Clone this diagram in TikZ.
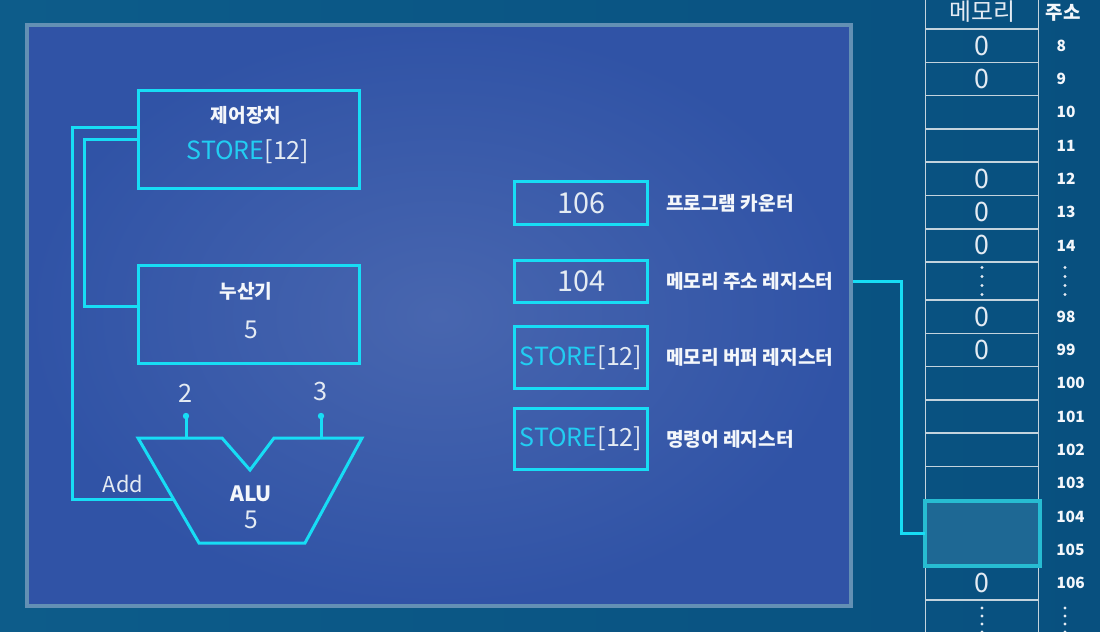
\documentclass[tikz,border=0pt]{standalone}
\usepackage{fontspec}
\setmainfont{Noto Sans CJK KR}
\usepackage{tikz}
\usetikzlibrary{positioning,calc}
\definecolor{bgteal}{HTML}{0D5C8A}
\definecolor{bgdeep}{HTML}{08507F}
\definecolor{panelin}{HTML}{4866AF}
\definecolor{panelout}{HTML}{3053A6}
\definecolor{panelrim}{HTML}{6390B4}
\definecolor{wirecyan}{HTML}{17DDF5}
\definecolor{opcyan}{HTML}{22CDF2}
\definecolor{txtwhite}{HTML}{F4F7FB}
\definecolor{numwhite}{HTML}{E4EBF3}
\definecolor{gridgray}{HTML}{C3D3DD}
\definecolor{hiline}{HTML}{27BCD2}
\definecolor{hifill}{HTML}{1E6894}
\newcommand{\storeop}[1]{{\fontsize{17.8}{21}\selectfont\textcolor{opcyan}{STORE}[#1]}}
\tikzset{
  cpubox/.style={draw=wirecyan, line width=0.75mm, minimum width=55.25mm, minimum height=24.5mm, inner sep=0pt, outer sep=0pt},
  regbox/.style={draw=wirecyan, line width=0.75mm, minimum width=33.25mm, inner sep=0pt, outer sep=0pt, text=numwhite, font=\fontsize{20.5}{24}\selectfont},
  cpuwire/.style={draw=wirecyan, line width=0.75mm},
  pindot/.style={circle, fill=wirecyan, minimum size=1.6mm, inner sep=0pt},
  titletxt/.style={text=txtwhite, font=\fontsize{13.6}{16}\selectfont\bfseries, inner sep=0pt},
  optxt/.style={text=numwhite, inner sep=0pt},
  valtxt/.style={text=numwhite, font=\fontsize{17.5}{21}\selectfont, inner sep=0pt},
  reglabel/.style={text=txtwhite, font=\fontsize{13.6}{16}\selectfont\bfseries, inner sep=0pt, anchor=west},
  memcell/.style={draw=gridgray, line width=0.375mm, minimum width=28.15mm, minimum height=8.33mm, inner sep=0pt, outer sep=0pt, text=numwhite, font=\fontsize{19}{22}\selectfont},
  addrtxt/.style={text=txtwhite, font=\fontsize{11}{13}\selectfont\bfseries, inner sep=0pt, anchor=west},
  memdot/.style={fill=numwhite}
}

\begin{document}
\begin{tikzpicture}[x=0.25mm, y=-0.25mm]
  \useasboundingbox (0,0) rectangle (1100,632);
  \clip (0,0) rectangle (1100,632);
  \shade[left color=bgteal, right color=bgdeep] (0,0) rectangle (1100,632);

  % CPU panel
  \shade[inner color=panelin, outer color=panelout] (26.5,24.7) rectangle (851,606);
  \draw[panelrim, line width=1mm] (26.5,24.7) rectangle (851,606);

  \node[cpubox] (ctrl) at (249,139.5) {};
  \node[titletxt] (ctrltitle) at ($(ctrl.center)+(-3,-24.5)$) {제어장치};
  \node[optxt] (ctrlop) at ($(ctrl.center)+(-1,12.5)$) {\storeop{12}};
  \node[cpubox] (acc) at (249,314.5) {};
  \node[titletxt] (acctitle) at ($(acc.center)+(-3,-23.5)$) {누산기};
  \node[valtxt] (accval) at ($(acc.center)+(2,15.5)$) {5};

  \draw[cpuwire] (138,438) -- (222,438) -- (250,470) -- (274,438) -- (362,438) -- (305,543) -- (199,543) -- cycle;
  \node[titletxt, font=\fontsize{15}{18}\selectfont\bfseries] (alu) at (251,494) {ALU};
  \node[valtxt] (aluval) at (251,520) {5};
  \coordinate (aluin) at (173.5,499);
  \coordinate (alutopa) at (186,438);
  \coordinate (alutopb) at (321,438);

  \node[pindot] (pina) at (186,416) {};
  \node[pindot] (pinb) at (321,416) {};
  \node[valtxt, font=\fontsize{18}{21}\selectfont] (numa) at (186,393) {2};
  \node[valtxt, font=\fontsize{18}{21}\selectfont] (numb) at (321,391) {3};
  \draw[cpuwire] (pina.center) -- (alutopa);
  \draw[cpuwire] (pinb.center) -- (alutopb);

  \draw[cpuwire] ($(ctrl.west)+(0,-11.5)$) -| (72,499) -- (aluin);
  \draw[cpuwire] ($(ctrl.west)+(0,0.5)$) -| ($(acc.west)+(-54,-8)$) -- ($(acc.west)+(0,-8)$);
  \node[valtxt, font=\fontsize{15.5}{18}\selectfont] (addlbl) at (123,484) {Add};

  % registers
  \node[regbox, minimum height=10.75mm] (pc) at (581,203) {106};
  \node[regbox, minimum height=10.5mm] (mar) at (581,281.5) {104};
  \node[regbox, minimum height=15.5mm] (mbr) at (581,357.5) {\storeop{12}};
  \node[regbox, minimum height=15.25mm] (ir) at (581,439) {\storeop{12}};
  \node[reglabel, right=4.6mm of pc] (pclbl) {프로그램 카운터};
  \node[reglabel, right=4.6mm of mar] (marlbl) {메모리 주소 레지스터};
  \node[reglabel, right=4.6mm of mbr] (mbrlbl) {메모리 버퍼 레지스터};
  \node[reglabel, right=4.6mm of ir] (irlbl) {명령어 레지스터};

  % memory
  \node[memcell, minimum height=8.5mm, font=\fontsize{17}{20}\selectfont] (mhead) at (982,12) {메모리};
  \node[titletxt, font=\fontsize{13.5}{16}\selectfont\bfseries] (ahead) at (1063,13) {주소};
  \draw[gridgray, line width=0.6mm] (mhead.south west) -- (mhead.south east);
  \foreach \addr/\val [count=\k from 0] in {8/0,9/0,10/,11/,12/0,13/0,14/0}{
    \node[memcell] (m\addr) at (982,{45.65+33.3*\k}) {\val};
    \node[addrtxt] (a\addr) at ($(m\addr.east)+(18,0)$) {\addr};
  }
  \node[memcell, minimum height=9.5mm] (mgapa) at (982,281) {};
  \foreach \addr/\val [count=\k from 0] in {98/0,99/0,100/,101/,102/,103/}{
    \node[memcell] (m\addr) at (982,{316.65+33.3*\k}) {\val};
    \node[addrtxt] (a\addr) at ($(m\addr.east)+(18,0)$) {\addr};
  }
  \node[memcell] (m106) at (982,583.3) {0};
  \node[addrtxt] (a106) at ($(m106.east)+(18,0)$) {106};
  \node[memcell, minimum height=10mm] (mgapb) at (982,620) {};
  \foreach \d in {0,...,3}{
    \fill[memdot] ($(mgapa.center)+(0,-13.5+9*\d)$) circle[radius=0.38mm];
    \fill[memdot] ($(mgapa.center)+(83,-13.5+9*\d)$) circle[radius=0.38mm];
    \fill[memdot] ($(mgapb.center)+(0,-12+8*\d)$) circle[radius=0.38mm];
    \fill[memdot] ($(mgapb.center)+(83,-12+8*\d)$) circle[radius=0.38mm];
  }

  \node[draw=hiline, fill=hifill, line width=1mm, minimum width=28.75mm, minimum height=16.25mm, inner sep=0pt, outer sep=0pt] (m104) at (982.5,533.5) {};
  \node[addrtxt] (a104) at (1056,517) {104};
  \node[addrtxt] (a105) at (1056,550) {105};

  \coordinate (marport) at (853,281.5);
  \draw[cpuwire] (marport) -| (901,533.5) -- (m104.west);
\end{tikzpicture}
\end{document}
